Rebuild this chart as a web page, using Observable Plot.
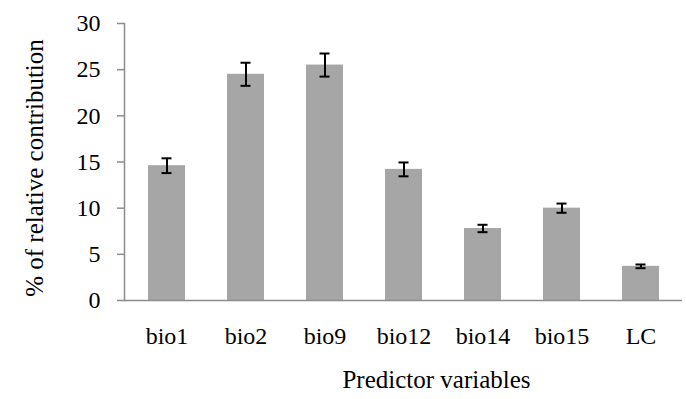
<!DOCTYPE html>
<html>
<head>
<meta charset="utf-8">
<script src="https://cdn.jsdelivr.net/npm/d3@7"></script>
<script src="https://cdn.jsdelivr.net/npm/@observablehq/plot@0.6"></script>
<style>
  html, body { margin: 0; padding: 0; background: #fff; }
  #chart { width: 686px; height: 399px; }
</style>
</head>
<body>
<div id="chart"></div>
<script>
const categories = ["bio1", "bio2", "bio9", "bio12", "bio14", "bio15", "LC"];
const values = [14.6, 24.5, 25.5, 14.2, 7.8, 10.0, 3.7];
const errors = [0.8, 1.25, 1.25, 0.75, 0.4, 0.5, 0.2];
const yTicks = [0, 5, 10, 15, 20, 25, 30];
const yLabel = "% of relative contribution";
const xLabel = "Predictor variables";

const data = categories.map((c, i) => ({cat: c, value: values[i], lo: values[i] - errors[i], hi: values[i] + errors[i]}));

const font = "Times New Roman, Liberation Serif, serif";

const chart = Plot.plot({
  width: 686,
  height: 399,
  marginLeft: 124,
  marginRight: 4,
  marginTop: 23,
  marginBottom: 99,
  style: {fontFamily: font, background: "#fff", color: "#000"},
  x: {domain: categories, paddingInner: 0.536, paddingOuter: 0.268, label: null},
  y: {domain: [0, 30], label: null},
  marks: [
    Plot.barY(data, {x: "cat", y: "value", fill: "#a6a6a6"}),
    Plot.ruleX(data, {x: "cat", y1: "lo", y2: "hi", stroke: "#000", strokeWidth: 2}),
    Plot.tickY(data, {x: "cat", y: "lo", stroke: "#000", strokeWidth: 2, insetLeft: 13.5, insetRight: 13.5}),
    Plot.tickY(data, {x: "cat", y: "hi", stroke: "#000", strokeWidth: 2, insetLeft: 13.5, insetRight: 13.5}),
    Plot.ruleY([0], {stroke: "#8c8c8c", strokeWidth: 1.5}),
    Plot.frame({anchor: "left", stroke: "#8c8c8c", strokeWidth: 1.5}),
    Plot.axisY({ticks: yTicks, tickSize: 7, tickPadding: 17, fontSize: 24, fontFamily: font, stroke: "#8c8c8c", strokeWidth: 1.5, label: null, color: "#000"}),
    Plot.axisX({tickSize: 0, tickPadding: 26, fontSize: 24, fontFamily: font, label: null}),
    Plot.text([yLabel], {text: d => d, frameAnchor: "left", textAnchor: "middle", rotate: -90, dx: -90, dy: 6, fontSize: 25, fontFamily: font, fill: "#000"}),
    Plot.text([xLabel], {text: d => d, frameAnchor: "bottom", dx: 33, dy: 87, fontSize: 25, fontFamily: font, fill: "#000"})
  ]
});
document.getElementById("chart").appendChild(chart);
</script>
</body>
</html>
